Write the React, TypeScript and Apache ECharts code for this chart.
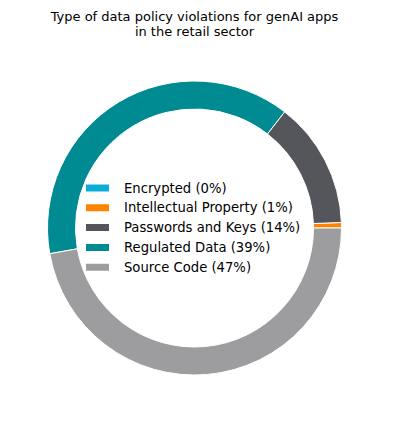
import React, { useEffect, useRef } from "react";
import * as echarts from "echarts";

const categories = [
  "Encrypted",
  "Intellectual Property",
  "Passwords and Keys",
  "Regulated Data",
  "Source Code",
];
const values = [0, 0.6, 13.9, 38.3, 47.2];
const percentLabels = ["0%", "1%", "14%", "39%", "47%"];
const colors = ["#0AADD5", "#FF8300", "#54565C", "#008A92", "#9D9D9F"];
const titleLines = [
  "Type of data policy violations for genAI apps",
  "in the retail sector",
];

export default function App() {
  const ref = useRef<HTMLDivElement>(null);
  useEffect(() => {
    if (!ref.current) return;
    const chart = echarts.init(ref.current, undefined, { renderer: "svg" });
    const font = "DejaVu Sans";
    chart.setOption({
      animation: false,
      title: {
        text: titleLines.join("\n"),
        left: 186.5,
        top: 1,
        padding: 0,
        textAlign: "center",
        textStyle: {
          fontFamily: font,
          fontSize: 13,
          fontWeight: "normal",
          color: "#000",
          lineHeight: 15,
          align: "center",
        },
      },
      legend: {
        orient: "vertical",
        left: 76,
        top: 172.5,
        padding: 0,
        itemWidth: 25,
        itemHeight: 9,
        itemGap: 4.8,
        icon: "rect",
        data: categories,
        formatter: (name: string) => {
          const i = categories.indexOf(name);
          return `${name} (${percentLabels[i]})`;
        },
        textStyle: {
          fontFamily: font,
          fontSize: 13.2,
          color: "#000",
          lineHeight: 15,
          padding: [0, 0, 0, 9],
        },
      },
      series: [
        {
          type: "pie",
          center: [186.5, 220],
          radius: [119, 147],
          startAngle: 0,
          clockwise: false,
          label: { show: false },
          labelLine: { show: false },
          silent: true,
          itemStyle: { borderColor: "#fff", borderWidth: 1 },
          data: categories.map((c, i) => ({
            name: c,
            value: values[i],
            itemStyle: { color: colors[i] },
          })),
        },
      ],
    });
    return () => chart.dispose();
  }, []);
  return <div ref={ref} style={{ width: 384, height: 407 }} />;
}
